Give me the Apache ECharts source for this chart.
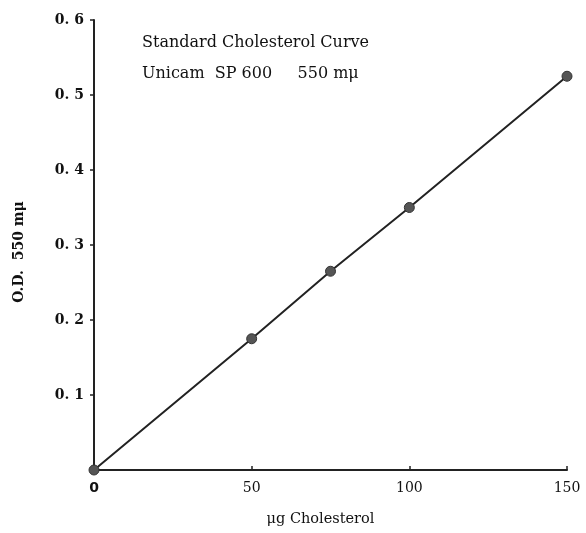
<!DOCTYPE html>
<html><head><meta charset="utf-8">
<script src="https://cdn.jsdelivr.net/npm/echarts@6/dist/echarts.min.js"></script>
<style>html,body{margin:0;padding:0;background:#fff}#c{width:586px;height:533px}</style>
</head><body><div id="c"></div>
<script>
const cholesterol = [0, 50, 75, 100, 150];
const od = [0, 0.175, 0.265, 0.35, 0.525];
const yTickLabels = {0.1:'0. 1',0.2:'0. 2',0.3:'0. 3',0.4:'0. 4',0.5:'0. 5',0.6:'0. 6'};
const xTickLabels = {0:'0',50:'50',100:'100',150:'150'};
const titleLines = ['Standard Cholesterol Curve', 'Unicam  SP 600     550 m\u03bc'];
const xName = '\u03bcg Cholesterol';
const yName = 'O.D.  550 m\u03bc';

const serif = '"DejaVu Serif", "Liberation Serif", serif';
const chart = echarts.init(document.getElementById('c'));
chart.setOption({
  animation: false,
  grid: {left: 94, right: 19, top: 20, bottom: 63, containLabel: false},
  xAxis: {
    type: 'value', min: 0, max: 150, interval: 50,
    name: xName, nameLocation: 'middle', nameGap: 42,
    nameTextStyle: {fontFamily: serif, fontSize: 14.5, color: '#111', padding: [0, 20, 0, 0]},
    axisLine: {show: true, onZero: false, lineStyle: {color: '#222', width: 2}},
    axisTick: {show: true, inside: true, length: 4, lineStyle: {color: '#222', width: 1.5}},
    splitLine: {show: false},
    axisLabel: {margin: 11, fontFamily: serif, fontSize: 14, color: '#111',
      rich: {b: {fontFamily: '"DejaVu Sans", sans-serif', fontSize: 14, fontWeight: 'bold', color: '#111'}},
      formatter: v => {
        const t = xTickLabels[v];
        if (t === undefined) return '';
        return v === 0 ? '{b|' + t + '}' : t;
      }}
  },
  yAxis: {
    type: 'value', min: 0, max: 0.6, interval: 0.1,
    name: yName, nameLocation: 'middle', nameGap: 68, nameRotate: 90,
    nameTextStyle: {fontFamily: serif, fontSize: 14, fontWeight: 'bold', color: '#111', padding: [0, 14, 0, 0]},
    axisLine: {show: true, onZero: false, lineStyle: {color: '#222', width: 2}},
    axisTick: {show: true, length: 4, lineStyle: {color: '#222', width: 1.5}},
    splitLine: {show: false},
    axisLabel: {margin: 10, fontFamily: serif, fontSize: 14, fontWeight: 'bold', color: '#111',
      formatter: v => { const k = Math.round(v * 10) / 10; return yTickLabels[k] || ''; }}
  },
  graphic: [
    {type: 'text', left: 142, top: 35, style: {text: titleLines[0], font: '16px ' + serif, fill: '#111'}},
    {type: 'text', left: 142, top: 66, style: {text: titleLines[1], font: '16px ' + serif, fill: '#111'}}
  ],
  series: [{
    type: 'line',
    data: cholesterol.map((x, i) => [x, od[i]]),
    symbol: 'circle', symbolSize: 10,
    itemStyle: {color: '#555', borderColor: '#333', borderWidth: 1},
    lineStyle: {color: '#222', width: 2}
  }]
});
</script></body></html>
